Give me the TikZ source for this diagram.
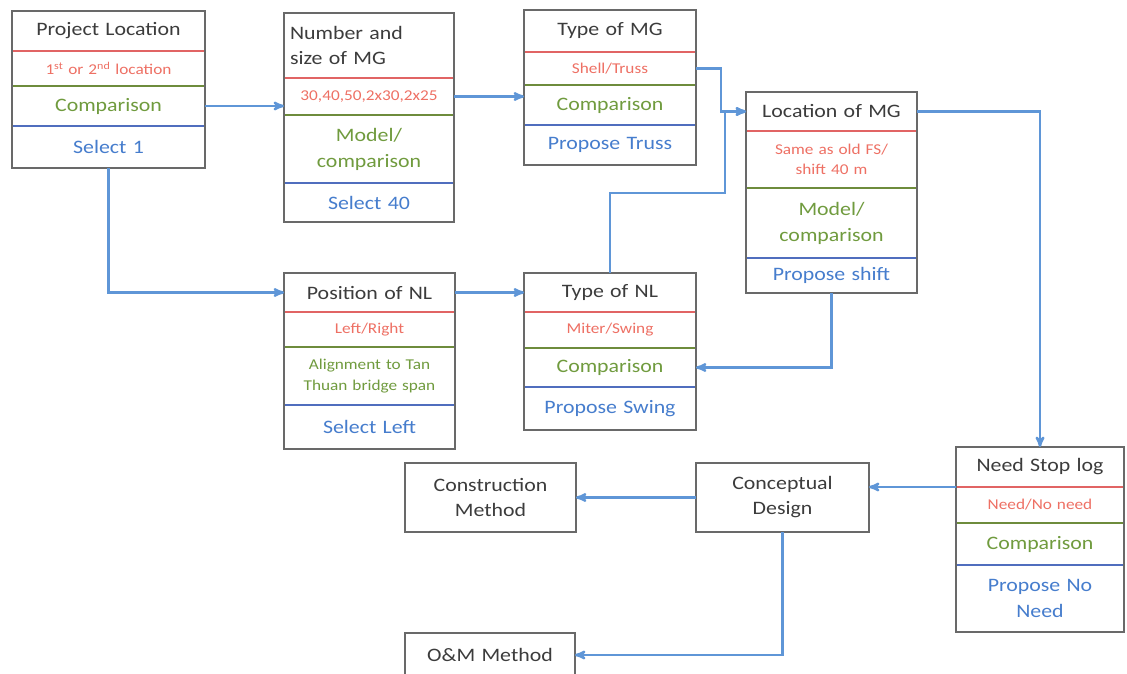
\documentclass[tikz,border=0pt]{standalone}
\usepackage{fontspec}
\setmainfont{Carlito}[FakeStretch=1.15]
\usepackage{tikz}
\usetikzlibrary{arrows,positioning}

\definecolor{framegray}{RGB}{105,105,105}
\definecolor{headgray}{RGB}{60,60,60}
\definecolor{redline}{RGB}{225,100,100}
\definecolor{redtext}{RGB}{238,112,100}
\definecolor{greenline}{RGB}{110,140,60}
\definecolor{greentext}{RGB}{112,155,62}
\definecolor{blueline}{RGB}{80,110,190}
\definecolor{bluetext}{RGB}{70,125,205}
\definecolor{linkblue}{RGB}{95,150,215}

\begin{document}
\begin{tikzpicture}[x=1pt,y=-1pt,>=stealth',
    row/.style={draw,line width=1.2pt,inner xsep=0pt,inner ysep=1pt,outer sep=0pt,text width=#1pt,align=center},
    head/.style={row=#1,draw=framegray,text=headgray,font=\fontsize{19}{25}\selectfont},
    redrow/.style={row=#1,draw=redline,text=redtext,font=\fontsize{15}{20}\selectfont},
    greenrow/.style={row=#1,draw=greenline,text=greentext,font=\fontsize{19}{26}\selectfont},
    bluerow/.style={row=#1,draw=blueline,text=bluetext,font=\fontsize{19}{26}\selectfont},
    plain box/.style={head=#1},
    frame/.style={draw=framegray,line width=1.4pt},
    link/.style={draw=linkblue,line width=2.4pt,->}]
    \fill[white] (0,0) rectangle (1127,674);
    \useasboundingbox (0,0) rectangle (1127,674);
    \clip (0,0) rectangle (1127,674);

    % project location
    \node[head=193,minimum height=40,anchor=north west] (plh) at (12,11) {Project Location};
    \node[redrow=193,minimum height=35,below=0pt of plh] (plr) {1\textsuperscript{st} or 2\textsuperscript{nd} location};
    \node[greenrow=193,minimum height=40,below=0pt of plr] (plg) {Comparison};
    \node[bluerow=193,minimum height=42,below=0pt of plg] (plb) {Select 1};
    \draw[frame] (plh.north west) rectangle (plb.south east);

    % number and size of MG
    \node[head=158,minimum height=65,anchor=north west,align=left,inner xsep=6pt] (nmh) at (284,13) {Number and\\size of MG};
    \node[redrow=170,minimum height=37,below=0pt of nmh] (nmr) {30,40,50,2x30,2x25};
    \node[greenrow=170,minimum height=68,below=0pt of nmr] (nmg) {Model/\\comparison};
    \node[bluerow=170,minimum height=39,below=0pt of nmg] (nmb) {Select 40};
    \draw[frame] (nmh.north west) rectangle (nmb.south east);

    % type of MG
    \node[head=172,minimum height=42,anchor=north west] (tmgh) at (524,10) {Type of MG};
    \node[redrow=172,minimum height=33,below=0pt of tmgh] (tmgr) {Shell/Truss};
    \node[greenrow=172,minimum height=40,below=0pt of tmgr] (tmgg) {Comparison};
    \node[bluerow=172,minimum height=40,below=0pt of tmgg] (tmgb) {Propose Truss};
    \draw[frame] (tmgh.north west) rectangle (tmgb.south east);

    % location of MG
    \node[head=171,minimum height=39,anchor=north west] (lmgh) at (746,92) {Location of MG};
    \node[redrow=171,minimum height=57,below=0pt of lmgh] (lmgr) {Same as old FS/\\shift 40 m};
    \node[greenrow=171,minimum height=70,below=0pt of lmgr] (lmgg) {Model/\\comparison};
    \node[bluerow=171,minimum height=35,below=0pt of lmgg] (lmgb) {Propose shift};
    \draw[frame] (lmgh.north west) rectangle (lmgb.south east);

    % position of NL
    \node[head=171,minimum height=39,anchor=north west] (pnlh) at (284,273) {Position of NL};
    \node[redrow=171,minimum height=35,below=0pt of pnlh] (pnlr) {Left/Right};
    \node[greenrow=171,minimum height=58,below=0pt of pnlr,font=\fontsize{15}{21}\selectfont] (pnlg) {Alignment to Tan\\Thuan bridge span};
    \node[bluerow=171,minimum height=44,below=0pt of pnlg] (pnlb) {Select Left};
    \draw[frame] (pnlh.north west) rectangle (pnlb.south east);

    % type of NL
    \node[head=172,minimum height=39,anchor=north west] (tnlh) at (524,273) {Type of NL};
    \node[redrow=172,minimum height=36,below=0pt of tnlh] (tnlr) {Miter/Swing};
    \node[greenrow=172,minimum height=39,below=0pt of tnlr] (tnlg) {Comparison};
    \node[bluerow=172,minimum height=43,below=0pt of tnlg] (tnlb) {Propose Swing};
    \draw[frame] (tnlh.north west) rectangle (tnlb.south east);

    % need stop log
    \node[head=168,minimum height=40,anchor=north west] (nslh) at (956,447) {Need Stop log};
    \node[redrow=168,minimum height=36,below=0pt of nslh] (nslr) {Need/No need};
    \node[greenrow=168,minimum height=42,below=0pt of nslr] (nslg) {Comparison};
    \node[bluerow=168,minimum height=67,below=0pt of nslg] (nslb) {Propose No\\Need};
    \draw[frame] (nslh.north west) rectangle (nslb.south east);

    % design and methods
    \node[plain box=173,minimum height=69,anchor=north west,line width=1.4pt] (cd) at (696,463) {Conceptual\\Design};
    \node[plain box=171,minimum height=69,anchor=north west,line width=1.4pt] (cm) at (405,463) {Construction\\Method};
    \node[plain box=170,minimum height=44,anchor=north west,line width=1.4pt] (om) at (405,633) {O\&M Method};

    \coordinate (jm) at (721,90);
    \coordinate (jn) at (725,193);

    \draw[link] (plg.east) -- (plg.east -| nmr.west);
    \draw[link] (nmr.east) -- (nmr.east -| tmgg.west);
    \draw[link] (tmgr.east) -| (jm) |- (lmgh.west);
    \draw[link] (tnlh.north) |- (jn) |- (lmgh.west);
    \draw[link] (lmgh.east) -| (nslh.north);
    \draw[link] (lmgb.south) |- (tnlg.east);
    \draw[link] (plb.south) |- (pnlh.west);
    \draw[link] (pnlh.east) -- (tnlh.west);
    \draw[link] (nslh.south west) -- (nslh.south west -| cd.east);
    \draw[link] (cd.west) -- (cm.east);
    \draw[link] (cd.south) |- (om.east);
\end{tikzpicture}
\end{document}
